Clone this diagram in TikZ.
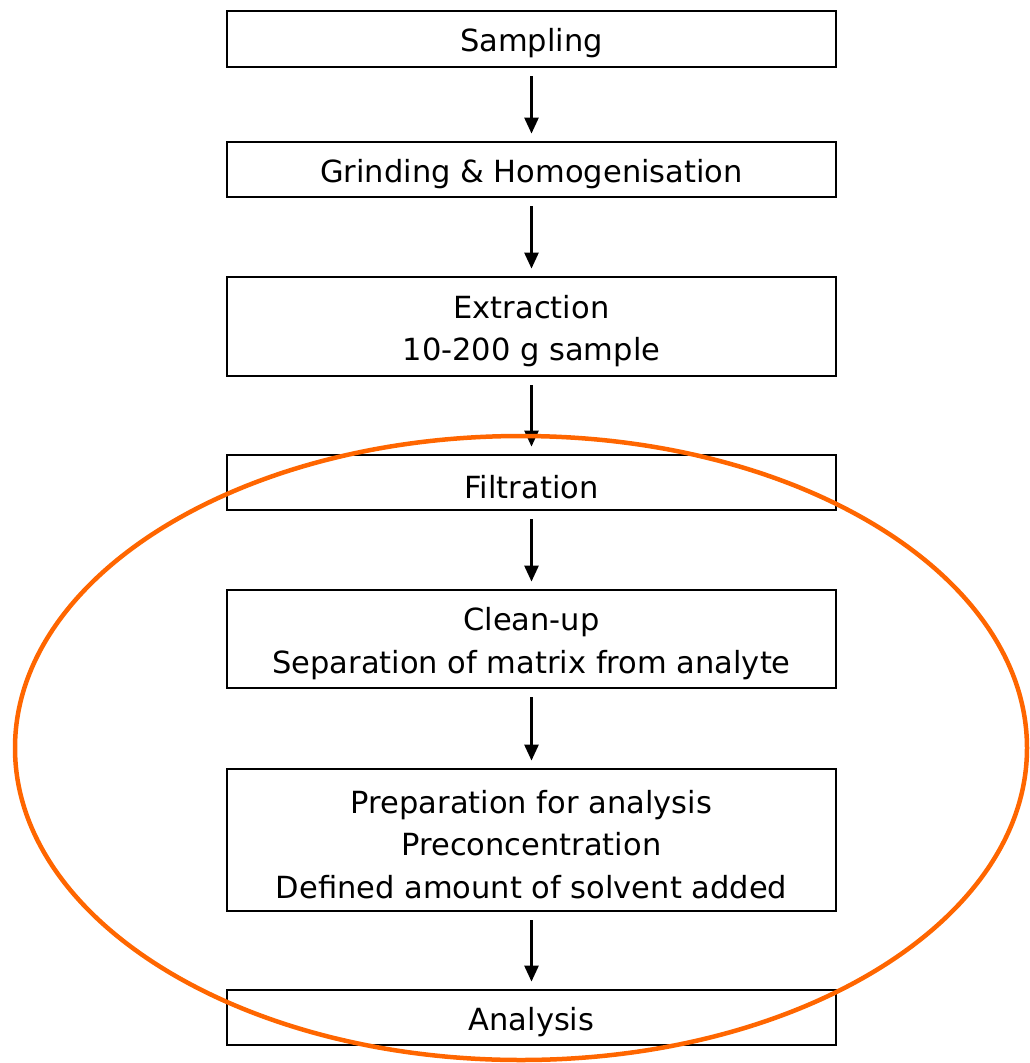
\documentclass[tikz,border=0pt]{standalone}
\usepackage{fontspec}
\setmainfont{DejaVu Sans}
\usetikzlibrary{arrows.meta}
\definecolor{ringorange}{RGB}{255,102,0}
\newcommand{\topgap}{\rule{0pt}{32pt}}

\tikzset{
  stepbox/.style={draw,line width=2.8pt,minimum width=609pt,align=center,
    font=\fontsize{30.5}{42.5}\selectfont,inner sep=0pt},
  flow/.style={line width=2.6pt,-{Triangle[length=16pt,width=14pt]},
    shorten <=8pt,shorten >=7pt}
}

\begin{document}
\begin{tikzpicture}[x=1pt,y=-1pt]
\useasboundingbox (0,0) rectangle (1029,1063);

% ============================================
% STEPS
% ============================================
        \node[stepbox,minimum height=56pt] (samp) at (531.5,39) {\topgap Sampling};
        \node[stepbox,minimum height=55pt] (grind) at (531.5,169.5) {\topgap Grinding \& Homogenisation};
        \node[stepbox,minimum height=99pt] (extr) at (531.5,326.5) {\topgap Extraction\\10-200 g sample};
        \node[stepbox,minimum height=55pt] (filt) at (531.5,482.5) {\topgap Filtration};
        \node[stepbox,minimum height=98pt] (clean) at (531.5,639) {\topgap Clean-up\\Separation of matrix from analyte};
        \node[stepbox,minimum height=142pt] (prep) at (531.5,840) {\topgap Preparation for analysis\\Preconcentration\\Defined amount of solvent added};
        \node[stepbox,minimum height=55pt] (anal) at (531.5,1017.5) {\topgap Analysis};

% ============================================
% Arrows between steps
% ============================================
        \draw[flow] (samp) -- (grind);
        \draw[flow] (grind) -- (extr);
        \draw[flow] (extr) -- (filt);
        \draw[flow] (filt) -- (clean);
        \draw[flow] (clean) -- (prep);
        \draw[flow] (prep) -- (anal);

% ============================================
% Highlight ring round the lower steps
% ============================================
        \draw[ringorange,line width=4.5pt] (521,748) ellipse [x radius=506, y radius=312];
\end{tikzpicture}
\end{document}
